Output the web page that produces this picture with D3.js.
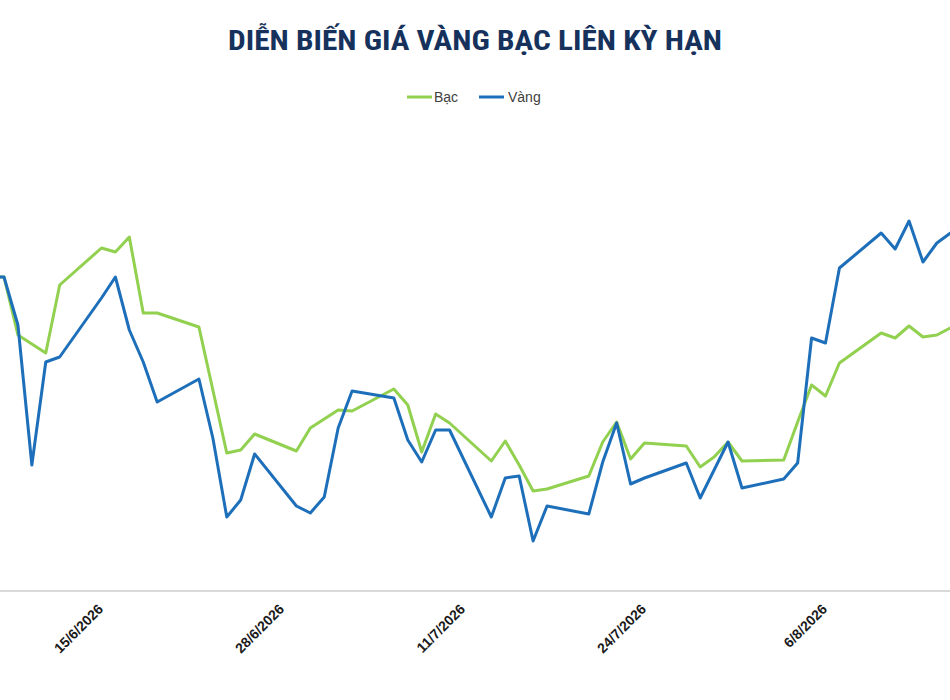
<!DOCTYPE html>
<html>
<head>
<meta charset="utf-8">
<script src="https://cdn.jsdelivr.net/npm/d3@7/dist/d3.min.js"></script>
<style>
  html, body { margin: 0; padding: 0; background: #ffffff; }
  svg { display: block; }
</style>
</head>
<body>
<div id="chart"></div>
<script>
// ---- Data (relative index, no y-axis shown) ----
const dates = [
  "2026-06-05",
  "2026-06-08","2026-06-09","2026-06-10","2026-06-11","2026-06-12",
  "2026-06-15","2026-06-16","2026-06-17","2026-06-18","2026-06-19",
  "2026-06-22","2026-06-23","2026-06-24","2026-06-25","2026-06-26",
  "2026-06-29","2026-06-30","2026-07-01","2026-07-02","2026-07-03",
  "2026-07-06","2026-07-07","2026-07-08","2026-07-09","2026-07-10",
  "2026-07-13","2026-07-14","2026-07-15","2026-07-16","2026-07-17",
  "2026-07-20","2026-07-21","2026-07-22","2026-07-23","2026-07-24",
  "2026-07-27","2026-07-28","2026-07-29","2026-07-30","2026-07-31",
  "2026-08-03","2026-08-04","2026-08-05","2026-08-06","2026-08-07",
  "2026-08-10","2026-08-11","2026-08-12","2026-08-13","2026-08-14",
  "2026-08-17"
];
const bac = [
  314,
  314, 256, 247, 238, 306,
  343, 339, 354, 278, 278,
  264, 201, 138, 141, 157,
  140, 163, 172, 181, 180,
  202, 186, 139, 177, 168,
  130, 150, 126, 100, 102,
  115, 149, 169, 132, 148,
  145, 124, 134, 149, 130,
  131, 169, 206, 195, 228,
  258, 253, 265, 254, 256,
  278
];
const vang = [
  314,
  314, 266, 126, 229, 234,
  293, 314, 261, 229, 189,
  212, 153, 74, 91, 137,
  85, 78, 94, 163, 200,
  193, 151, 129, 161, 161,
  74, 113, 115, 50, 85,
  77, 129, 168, 107, 113,
  128, 93, 121, 149, 103,
  112, 128, 253, 248, 323,
  358, 342, 370, 329, 348,
  379
];
const tickDates = ["2026-06-15","2026-06-28","2026-07-11","2026-07-24","2026-08-06"];
const seriesNames = ["Bạc", "Vàng"];
const titleText = "DIỄN BIẾN GIÁ VÀNG BẠC LIÊN KỲ HẠN";

// ---- Setup ----
const W = 950, H = 700;
const colors = { "Bạc": "#92D050", "Vàng": "#1E6FBA" };
const parse = d3.utcParse("%Y-%m-%d");

const svg = d3.select("#chart").append("svg")
  .attr("width", W).attr("height", H)
  .attr("font-family", "'Liberation Sans', Arial, sans-serif");

svg.append("defs").append("clipPath").attr("id", "clip")
  .append("rect").attr("x", 0).attr("y", 0).attr("width", W).attr("height", H);

const x = d3.scaleUtc()
  .domain([parse("2026-06-08"), parse("2026-08-06")])
  .range([4, 825.5]);
const y = d3.scaleLinear().domain([0, 400]).range([591, 191]);

// Title
svg.append("text")
  .attr("x", 475).attr("y", 50)
  .attr("text-anchor", "middle")
  .attr("font-family", "'Liberation Sans Narrow', 'Arial Narrow', 'Roboto Condensed', 'Liberation Sans', sans-serif")
  .attr("font-weight", "bold")
  .attr("font-size", 27)
  .attr("fill", "#16325C")
  .attr("textLength", 494)
  .attr("lengthAdjust", "spacingAndGlyphs")
  .text(titleText);

// Legend
const legendItems = [
  { name: seriesNames[0], lx: 407, tx: 434 },
  { name: seriesNames[1], lx: 479, tx: 508 }
];
const lg = svg.append("g").attr("class", "legend");
legendItems.forEach(it => {
  lg.append("line")
    .attr("x1", it.lx).attr("x2", it.lx + 25)
    .attr("y1", 97).attr("y2", 97)
    .attr("stroke", colors[it.name]).attr("stroke-width", 3);
  lg.append("text")
    .attr("x", it.tx).attr("y", 102)
    .attr("font-size", 14)
    .attr("fill", "#404040")
    .text(it.name);
});

// X axis
const xAxis = d3.axisBottom(x)
  .tickValues(tickDates.map(parse))
  .tickSize(0)
  .tickFormat(d => `${d.getUTCDate()}/${d.getUTCMonth() + 1}/${d.getUTCFullYear()}`);

const gx = svg.append("g")
  .attr("transform", "translate(0,591)")
  .call(xAxis);
gx.select(".domain").remove();
gx.append("line")
  .attr("x1", 0).attr("x2", W).attr("y1", 0).attr("y2", 0)
  .attr("stroke", "#D9D9D9").attr("stroke-width", 2);
gx.selectAll(".tick text")
  .attr("font-family", "'Liberation Sans', Arial, sans-serif")
  .attr("font-size", 14)
  .attr("font-weight", "bold")
  .attr("fill", "#1a1a1a")
  .attr("text-anchor", "end")
  .attr("dy", null)
  .attr("y", 0)
  .attr("transform", "translate(2,19) rotate(-45)");

// Lines
const data = seriesNames.map(name => ({
  name,
  values: dates.map((d, i) => ({ date: parse(d), value: (name === "Bạc" ? bac : vang)[i] }))
}));

const line = d3.line()
  .x(d => x(d.date))
  .y(d => y(d.value));

svg.append("g").attr("clip-path", "url(#clip)")
  .selectAll("path")
  .data(data)
  .join("path")
  .attr("fill", "none")
  .attr("stroke", d => colors[d.name])
  .attr("stroke-width", 3)
  .attr("stroke-linejoin", "round")
  .attr("d", d => line(d.values));
</script>
</body>
</html>
